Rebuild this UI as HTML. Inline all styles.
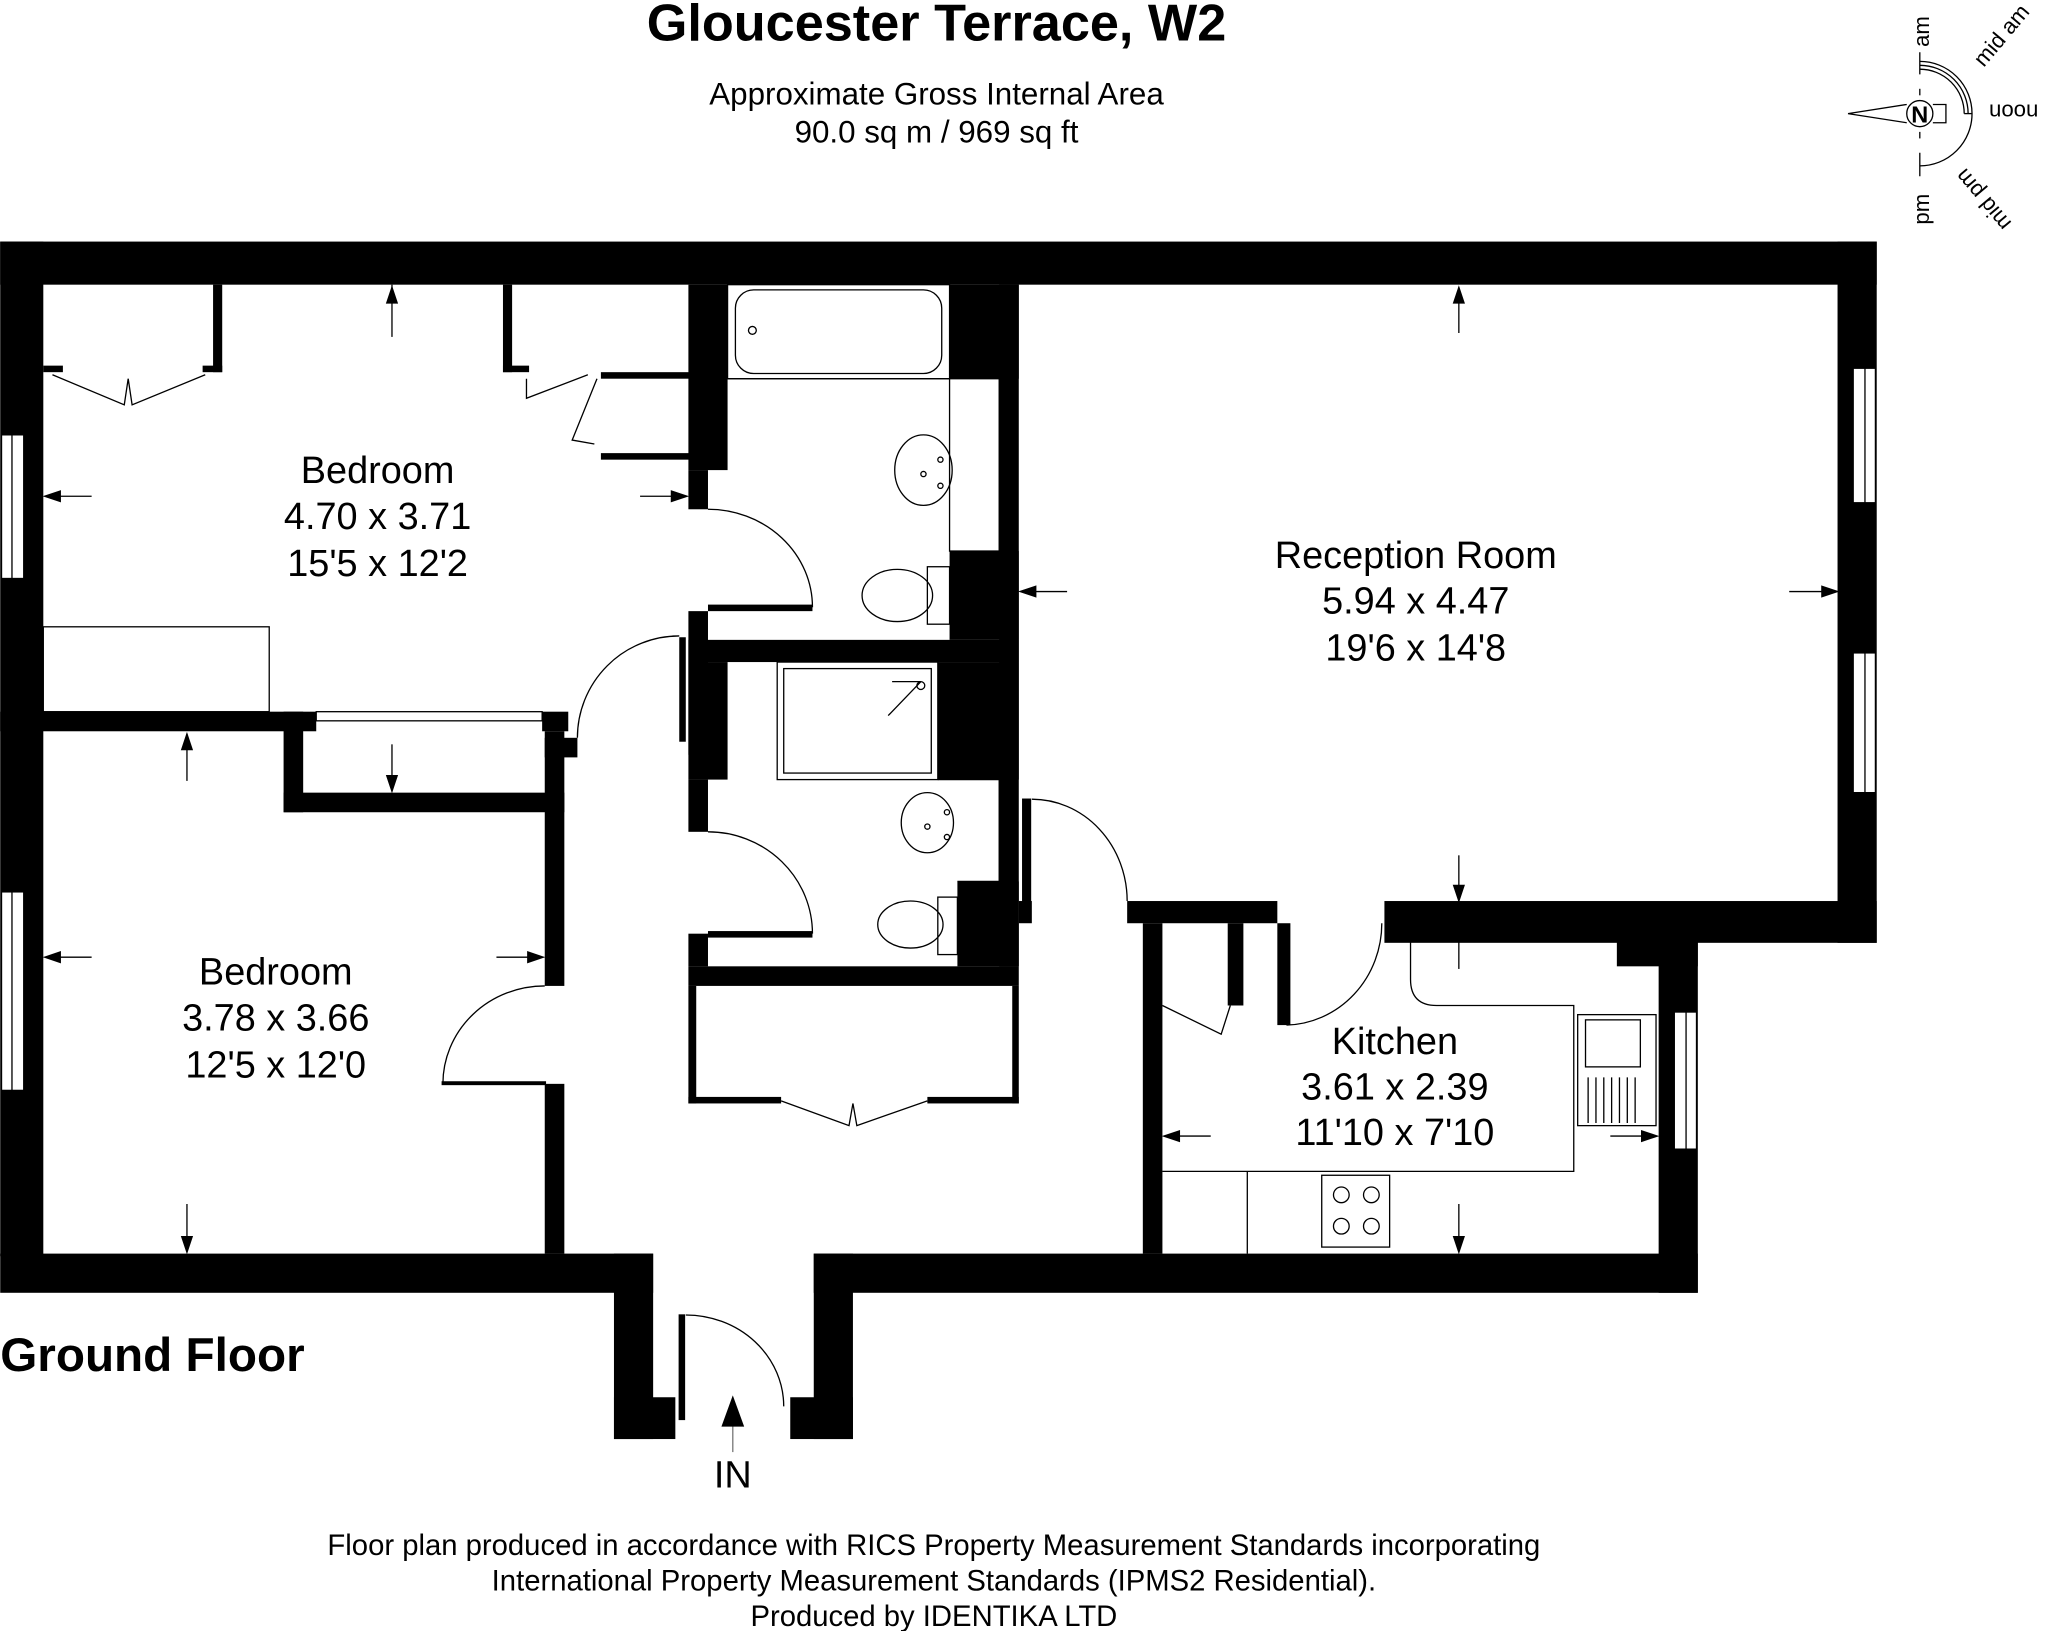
<!DOCTYPE html>
<html><head><meta charset="utf-8"><style>html,body{margin:0;padding:0;background:#fff}svg{display:block}</style></head>
<body>
<svg width="2048" height="1631" viewBox="0 0 1568 1249" xmlns="http://www.w3.org/2000/svg" font-family="Liberation Sans, sans-serif">
<rect width="1568" height="1249" fill="#fff"/>
<g fill="#000">
<rect x="0" y="185" width="1437" height="33"/>
<rect x="0" y="185" width="33" height="777"/>
<rect x="0" y="960" width="500" height="30"/>
<rect x="470" y="960" width="30" height="142"/>
<rect x="470" y="1070" width="47" height="32"/>
<rect x="623" y="960" width="30" height="142"/>
<rect x="605" y="1070" width="48" height="32"/>
<rect x="623" y="960" width="677" height="30"/>
<rect x="1407" y="185" width="30" height="537"/>
<rect x="1060" y="690" width="377" height="32"/>
<rect x="863" y="690" width="115" height="17"/>
<rect x="1238" y="707" width="62" height="33"/>
<rect x="1270" y="707" width="30" height="283"/>
<rect x="875" y="707" width="15" height="253"/>
<rect x="940" y="707" width="12" height="63"/>
<rect x="978" y="707" width="10" height="78"/>
<rect x="765" y="218" width="15" height="522"/>
<rect x="727" y="218" width="53" height="72"/>
<rect x="727" y="422" width="53" height="68"/>
<rect x="527" y="490" width="253" height="17"/>
<rect x="718" y="507" width="62" height="90"/>
<rect x="733" y="675" width="47" height="65"/>
<rect x="780" y="690" width="10" height="17"/>
<rect x="527" y="218" width="30" height="142"/>
<rect x="527" y="360" width="15" height="30"/>
<rect x="460" y="285" width="70" height="5"/>
<rect x="460" y="347" width="70" height="5"/>
<rect x="542" y="463" width="80" height="5"/>
<rect x="527" y="468" width="15" height="110"/>
<rect x="527" y="507" width="30" height="90"/>
<rect x="520" y="488" width="5" height="80"/>
<rect x="527" y="597" width="15" height="40"/>
<rect x="542" y="713" width="80" height="5"/>
<rect x="527" y="715" width="15" height="25"/>
<rect x="527" y="740" width="253" height="15"/>
<rect x="527" y="755" width="6" height="90"/>
<rect x="775" y="755" width="5" height="90"/>
<rect x="527" y="840" width="71" height="5"/>
<rect x="710" y="840" width="70" height="5"/>
<rect x="163" y="218" width="7" height="67"/>
<rect x="155" y="280" width="15" height="5"/>
<rect x="33" y="280" width="15" height="5"/>
<rect x="385" y="218" width="7" height="67"/>
<rect x="385" y="280" width="20" height="5"/>
<rect x="0" y="545" width="242" height="15"/>
<rect x="217" y="545" width="15" height="77"/>
<rect x="217" y="607" width="215" height="15"/>
<rect x="415" y="545" width="20" height="15"/>
<rect x="417" y="560" width="15" height="195"/>
<rect x="417" y="565" width="25" height="15"/>
<rect x="417" y="830" width="15" height="130"/>
<rect x="338" y="828" width="80" height="3"/>
</g>
<g fill="#fff" stroke="#000" stroke-width="1">
<rect x="1" y="333" width="17" height="110"/><line x1="9" y1="333" x2="9" y2="443"/>
<rect x="1" y="683" width="17" height="152"/><line x1="9" y1="683" x2="9" y2="835"/>
<rect x="1419" y="282" width="17" height="103"/><line x1="1428" y1="282" x2="1428" y2="385"/>
<rect x="1419" y="500" width="17" height="107"/><line x1="1428" y1="500" x2="1428" y2="607"/>
<rect x="1282" y="775" width="17" height="105"/><line x1="1291" y1="775" x2="1291" y2="880"/>
</g>
<g fill="none" stroke="#000" stroke-width="1">
<path d="M542 390 A80 75 0 0 1 622 465"/>
<path d="M520 487 A78 78 0 0 0 442 565"/>
<path d="M542 637 A80 78 0 0 1 622 715"/>
<path d="M417 755 A78 75 0 0 0 339 830"/>
<path d="M790 612 A73 78 0 0 1 863 690"/>
<path d="M1058 707 A75 78 0 0 1 985 785"/>
<path d="M525 1007 A75 70 0 0 1 600 1077"/>
<rect x="520" y="1007" width="4" height="80" fill="#000"/>
<rect x="783" y="612" width="6" height="78" fill="#000"/>
<path d="M40 287 L95 310 L98 290 L101 310 L157 287"/>
<path d="M403 290 L403 305 L450 287"/>
<path d="M457 290 L438 337 L455 340"/>
<path d="M598 843 L650 862 L653 845 L656 862 L710 843"/>
<path d="M890 770 L935 792 L942 770"/>
<rect x="33" y="480" width="173" height="65"/>
<rect x="242" y="545" width="173" height="7"/>
<rect x="557" y="218" width="170" height="72"/>
<rect x="563" y="222" width="158" height="64" rx="14"/>
<circle cx="576" cy="253" r="3"/>
<path d="M557 290 H727 M727 290 H765 V422 H727 Z"/>
<ellipse cx="707" cy="360" rx="22" ry="27"/><circle cx="707" cy="363" r="2"/><circle cx="720" cy="352" r="2"/><circle cx="720" cy="372" r="2"/>
<rect x="710" y="434" width="17" height="44"/>
<ellipse cx="687" cy="456" rx="27" ry="20"/>
<rect x="595" y="507" width="123" height="90"/>
<rect x="600" y="512" width="113" height="80"/>
<path d="M680 548 L705 522 M683 522 L705 522"/><circle cx="705" cy="525" r="3"/>
<path d="M718 597 H765 V675 H733"/>
<ellipse cx="710" cy="630" rx="20" ry="23"/><circle cx="710" cy="633" r="2"/><circle cx="725" cy="622" r="2"/><circle cx="725" cy="641" r="2"/>
<rect x="718" y="687" width="15" height="44"/>
<ellipse cx="697" cy="708" rx="25" ry="18"/>
<path d="M1080 707 V750 Q1080 770 1100 770 H1205 V897 H890"/>
<path d="M955 897 V960"/>
<rect x="1012" y="900" width="52" height="55"/>
<circle cx="1027" cy="915" r="6"/><circle cx="1050" cy="915" r="6"/><circle cx="1027" cy="939" r="6"/><circle cx="1050" cy="939" r="6"/>
<rect x="1208" y="777" width="60" height="85"/>
<rect x="1214" y="781" width="42" height="36"/>
<path d="M1216 825 V860 M1222 825 V860 M1228 825 V860 M1234 825 V860 M1240 825 V860 M1246 825 V860 M1252 825 V860"/>
<circle cx="1470" cy="87" r="10"/>
<path d="M1415 87 L1460 80 M1415 87 L1460 94"/>
<path d="M1480 80 H1490 V94 H1480"/>
<line x1="1470" y1="68" x2="1470" y2="73"/><line x1="1470" y1="101" x2="1470" y2="106"/>
<path d="M1470 40 V57 M1470 117 V135"/>
<path d="M1470 47 A40 40 0 0 1 1470 127"/>
<path d="M1470 50 A37 37 0 0 1 1507 87"/>
<path d="M1470 53 A34 34 0 0 1 1504 87"/>
<path d="M1504 87 H1510"/>
</g>
<g stroke="#000" stroke-width="1" fill="#000">
<line x1="300" y1="218" x2="300" y2="258"/><path d="M300 220 l-4 12 h8z"/>
<line x1="36" y1="380" x2="70" y2="380"/><path d="M34 380 l12 -4 v8z"/>
<line x1="490" y1="380" x2="525" y2="380"/><path d="M526 380 l-12 -4 v8z"/>
<line x1="143" y1="562" x2="143" y2="598"/><path d="M143 562 l-4 12 h8z"/>
<line x1="300" y1="570" x2="300" y2="606"/><path d="M300 606 l-4 -12 h8z"/>
<line x1="36" y1="733" x2="70" y2="733"/><path d="M34 733 l12 -4 v8z"/>
<line x1="380" y1="733" x2="415" y2="733"/><path d="M416 733 l-12 -4 v8z"/>
<line x1="143" y1="922" x2="143" y2="958"/><path d="M143 959 l-4 -12 h8z"/>
<line x1="1117" y1="220" x2="1117" y2="255"/><path d="M1117 220 l-4 12 h8z"/>
<line x1="782" y1="453" x2="817" y2="453"/><path d="M781 453 l12 -4 v8z"/>
<line x1="1370" y1="453" x2="1406" y2="453"/><path d="M1407 453 l-12 -4 v8z"/>
<line x1="1117" y1="655" x2="1117" y2="690"/><path d="M1117 690 l-4 -12 h8z"/>
<line x1="1117" y1="708" x2="1117" y2="742"/><path d="M1117 708 l-4 12 h8z"/>
<line x1="892" y1="870" x2="927" y2="870"/><path d="M891 870 l12 -4 v8z"/>
<line x1="1233" y1="870" x2="1268" y2="870"/><path d="M1269 870 l-12 -4 v8z"/>
<line x1="1117" y1="922" x2="1117" y2="958"/><path d="M1117 959 l-4 -12 h8z"/>
<line x1="561" y1="1090" x2="561" y2="1112" stroke="#777"/><path d="M561 1070 l-8 22 h16z"/>
</g>
<g fill="#000" text-anchor="middle">
<text x="717" y="31" font-size="40" font-weight="bold">Gloucester Terrace, W2</text>
<text x="717" y="80" font-size="24">Approximate Gross Internal Area</text>
<text x="717" y="109" font-size="24">90.0 sq m / 969 sq ft</text>
<text x="289" y="370" font-size="29">Bedroom</text>
<text x="289" y="405" font-size="29">4.70 x 3.71</text>
<text x="289" y="441" font-size="29">15'5 x 12'2</text>
<text x="211" y="754" font-size="29">Bedroom</text>
<text x="211" y="789" font-size="29">3.78 x 3.66</text>
<text x="211" y="825" font-size="29">12'5 x 12'0</text>
<text x="1084" y="435" font-size="29">Reception Room</text>
<text x="1084" y="470" font-size="29">5.94 x 4.47</text>
<text x="1084" y="506" font-size="29">19'6 x 14'8</text>
<text x="1068" y="807" font-size="29">Kitchen</text>
<text x="1068" y="842" font-size="29">3.61 x 2.39</text>
<text x="1068" y="877" font-size="29">11'10 x 7'10</text>
<text x="561" y="1139" font-size="29">IN</text>
<text x="715" y="1191" font-size="22.4">Floor plan produced in accordance with RICS Property Measurement Standards incorporating</text>
<text x="715" y="1218" font-size="22.4">International Property Measurement Standards (IPMS2 Residential).</text>
<text x="715" y="1245" font-size="22.4">Produced by IDENTIKA LTD</text>
<text x="1470" y="94" font-size="18" font-weight="bold">N</text>
</g>
<text x="0" y="1050" font-size="36.5" font-weight="bold" fill="#000">Ground Floor</text>
<g font-size="17" fill="#000">
<text transform="translate(1477 36) rotate(-90)">am</text>
<text transform="translate(1519 52) rotate(-50)">mid am</text>
<text transform="translate(1523 80) rotate(180)" text-anchor="end">noon</text>
<text transform="translate(1477 172) rotate(-90)">pm</text>
<text transform="translate(1505 128) rotate(230)" text-anchor="end">mid pm</text>
</g>
</svg>
</body></html>
